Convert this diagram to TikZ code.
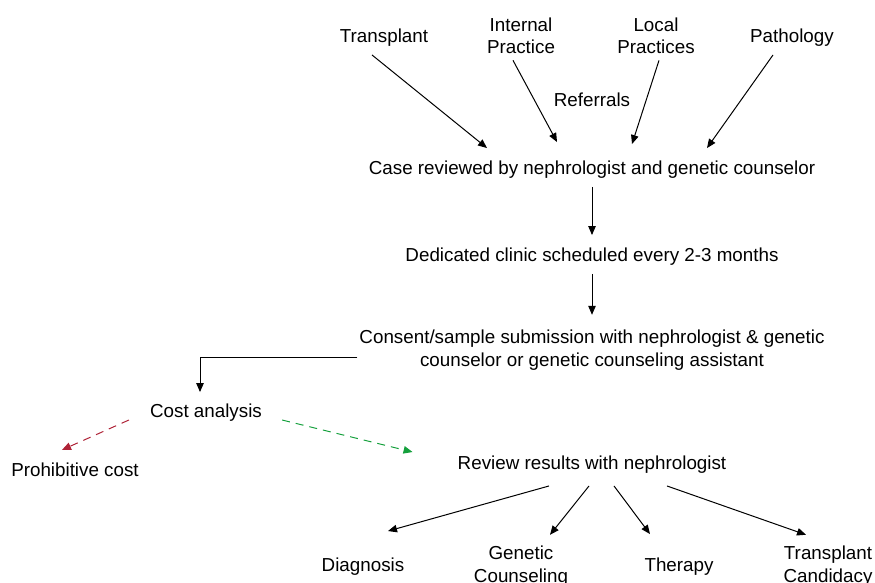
\documentclass[tikz,border=0pt]{standalone}
\usepackage{fontspec}
\setmainfont{Liberation Sans}
\usetikzlibrary{arrows.meta,calc}
\definecolor{darkred}{RGB}{175,35,55}
\definecolor{dashgreen}{RGB}{20,160,60}
\begin{document}
\begin{tikzpicture}[x=1pt,y=-1pt,
  lbl/.style={inner sep=0pt,align=center,yshift=-2pt,font=\fontsize{18.8}{22.5}\selectfont},
  arr/.style={line width=1pt,-{Triangle[length=9pt,width=7.5pt]}},
  dsh/.style={line width=1pt,dash pattern=on 8pt off 6pt,-{Triangle[length=9pt,width=7.5pt]}}]
\useasboundingbox (0,0) rectangle (875,582);
\node[lbl] (tp) at (384,36) {Transplant};
\node[lbl] (ip) at (521,34) {Internal\\Practice};
\node[lbl] (lp) at (656,34) {Local\\Practices};
\node[lbl] (pa) at (792,36) {Pathology};
\node[lbl] (ref) at (592,98) {Referrals};
\node[lbl] (case) at (592,168) {Case reviewed by nephrologist and genetic counselor};
\node[lbl] (ded) at (592,255) {Dedicated clinic scheduled every 2-3 months};
\node[lbl] (con) at (592,348) {Consent/sample submission with nephrologist \& genetic\\counselor or genetic counseling assistant};
\node[lbl] (cost) at (206,411) {Cost analysis};
\node[lbl] (pro) at (75,468) {Prohibitive cost};
\node[lbl] (rev) at (592,463) {Review results with nephrologist};
\node[lbl] (dia) at (363,565) {Diagnosis};
\node[lbl] (gc) at (521,564) {Genetic\\Counseling};
\node[lbl] (the) at (679,565) {Therapy};
\node[lbl] (tc) at (828,564) {Transplant\\Candidacy};

\draw[arr] ($(tp.south)+(-12,8)$) -- ($(case.north)+(-105,-13)$);
\draw[arr] ($(ip.south)+(-8,6)$) -- ($(case.north)+(-35,-19)$);
\draw[arr] ($(lp.south)+(3,6)$) -- ($(case.north)+(40,-17)$);
\draw[arr] ($(pa.south)+(-19,8)$) -- ($(case.north)+(115,-13)$);
\draw[arr] (case.south) ++(0,8) -- ($(ded.north)+(0,-13)$);
\draw[arr] (ded.south) ++(0,8) -- ($(con.north)+(0,-15)$);
\draw[arr] ($(con.west)+(-2,7)$) -| ($(cost.north)+(-6,-12)$);
\draw[dsh,darkred] ($(cost.west)+(-21,7)$) -- ($(pro.north)+(-13,-13)$);
\draw[dsh,dashgreen] ($(cost.east)+(20,7)$) -- ($(rev.west)+(-45,-13)$);
\draw[arr] ($(rev.south)+(-43,12)$) -- ($(dia.north)+(25,-27)$);
\draw[arr] ($(rev.south)+(-3,12)$) -- ($(gc.north)+(29,-11)$);
\draw[arr] ($(rev.south)+(22,12)$) -- ($(the.north)+(-29,-24)$);
\draw[arr] ($(rev.south)+(75,12)$) -- ($(tc.north)+(-22,-11)$);
\end{tikzpicture}
\end{document}
